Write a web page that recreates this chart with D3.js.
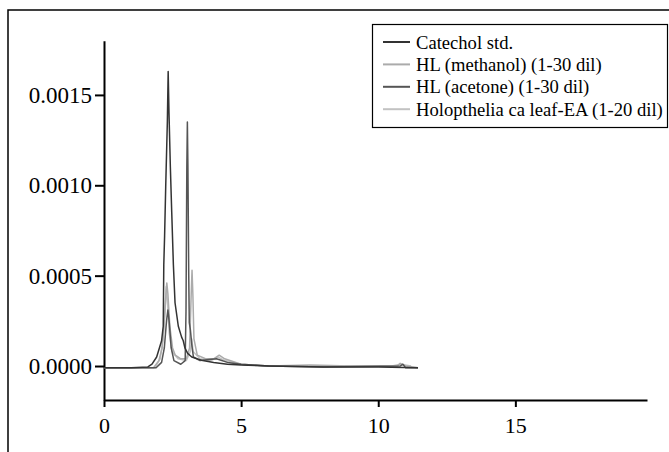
<!DOCTYPE html>
<html><head><meta charset="utf-8">
<script src="https://cdn.jsdelivr.net/npm/d3@7"></script>
<style>body{margin:0;background:#fff}svg{display:block}</style>
</head><body>
<script>
// ---- data ----
const seriesNames = ["Catechol std.", "HL (methanol) (1-30 dil)", "HL (acetone) (1-30 dil)", "Holopthelia ca leaf-EA (1-20 dil)"];
const seriesColors = ["#333333", "#ababab", "#555555", "#c2c2c2"];
const xTicks = [0, 5, 10, 15];
const yTicks = [0, 0.0005, 0.0010, 0.0015];

const catechol = [[0,-0.00001],[1.0,-0.00001],[1.6,-0.000005],[1.75,0.00001],[1.92,0.00005],[2.02,0.0001],[2.1,0.00014],[2.16,0.00022],[2.18,0.00056],[2.21,0.00072],[2.25,0.00099],[2.31,0.00135],[2.34,0.00163],[2.37,0.0014],[2.42,0.0011],[2.47,0.00085],[2.53,0.00056],[2.59,0.00035],[2.71,0.00022],[2.83,0.00016],[2.89,0.00014],[2.95,0.0001],[3.05,0.00007],[3.2,0.00005],[3.6,0.00003],[4.0,0.00002],[4.5,0.00001],[5,0.000005],[6,0],[8,-0.000005],[10,-0.000005],[11.45,-0.00001]];
const methanol = [[0,-0.00001],[1.8,-0.00001],[2.0,0.00003],[2.12,0.0001],[2.2,0.00025],[2.26,0.0004],[2.29,0.00046],[2.33,0.0004],[2.4,0.00022],[2.5,0.0001],[2.6,0.00006],[2.8,0.00004],[3.0,0.00004],[3.12,0.0001],[3.18,0.0004],[3.21,0.00053],[3.24,0.0004],[3.28,0.00015],[3.4,0.00006],[3.7,0.00004],[4.0,0.00004],[4.2,0.00006],[4.4,0.00004],[5,0.00001],[6,0],[7.5,0.000005],[9,0],[10.7,0],[10.8,0.000015],[11,0],[11.45,-0.00001]];
const acetone = [[0,-0.00001],[1.9,-0.00001],[2.1,0.00002],[2.2,0.0001],[2.28,0.00025],[2.33,0.00031],[2.38,0.00024],[2.45,0.0001],[2.55,0.00003],[2.8,0.00001],[2.96,0.00003],[2.99,0.0003],[3.02,0.0011],[3.04,0.00135],[3.06,0.0011],[3.09,0.0005],[3.11,0.00024],[3.15,0.0002],[3.2,0.00012],[3.26,0.00005],[3.5,0.00003],[4.1,0.00004],[4.5,0.00002],[5,0.00001],[6,0],[8,-0.000005],[10.8,0],[10.9,0.00001],[11,-0.00001],[11.45,-0.00001]];
const holopthelia = [[0,-0.00001],[1.85,-0.00001],[2.05,0.00004],[2.15,0.00015],[2.22,0.0003],[2.27,0.00044],[2.31,0.00036],[2.38,0.00018],[2.48,0.00008],[2.7,0.00004],[3.0,0.00003],[3.15,0.00008],[3.2,0.00015],[3.25,0.00008],[3.5,0.00004],[3.9,0.00003],[4.15,0.00005],[4.4,0.00003],[5,0.00001],[6,0],[10.5,0],[10.8,0.00001],[11.2,0]];
const seriesData = [catechol, methanol, acetone, holopthelia];

// ---- drawing ----
const W = 669, H = 452;
const FONT = "Liberation Serif, DejaVu Serif, Times New Roman, Times, serif";
const svg = d3.select("body").append("svg").attr("width", W).attr("height", H);

// outer frame
svg.append("rect").attr("x", 8).attr("y", 10).attr("width", 720).attr("height", 520)
  .attr("fill", "none").attr("stroke", "#000").attr("stroke-width", 1.5);

const x = d3.scaleLinear().domain([0, 19.8]).range([104, 647]);
const y = d3.scaleLinear().domain([-0.000188, 0.0018]).range([400, 40.7]);

// axes
const xAxis = d3.axisBottom(x).tickValues(xTicks).tickSize(7).tickSizeOuter(0).tickFormat(d3.format("d"));
const gx = svg.append("g").attr("transform", `translate(0,${y.range()[0]})`).call(xAxis);
gx.attr("font-family", FONT).attr("font-size", 22);
gx.select(".domain").attr("stroke", "#000").attr("stroke-width", 2);
gx.selectAll(".tick line").attr("stroke", "#000").attr("stroke-width", 2);
gx.selectAll(".tick text").attr("fill", "#000").attr("dy", "1.05em")
  .style("font-family", FONT).style("font-size", "22px");

const yAxis = d3.axisLeft(y).tickValues(yTicks).tickSize(9).tickSizeOuter(0).tickFormat(d3.format(".4f"));
const gy = svg.append("g").attr("transform", `translate(${x.range()[0]},0)`).call(yAxis);
gy.attr("font-family", FONT).attr("font-size", 23);
gy.select(".domain").attr("stroke", "#000").attr("stroke-width", 2);
gy.selectAll(".tick line").attr("stroke", "#000").attr("stroke-width", 2);
gy.selectAll(".tick text").attr("fill", "#000").attr("x", -12)
  .style("font-family", FONT).style("font-size", "23px");

// lines
const line = d3.line().x(d => x(d[0])).y(d => y(d[1]));
const order = [3, 1, 2, 0];
order.forEach(i => {
  svg.append("path").datum(seriesData[i]).attr("d", line)
    .attr("fill", "none").attr("stroke", seriesColors[i]).attr("stroke-width", 1.5)
    .attr("stroke-linejoin", "round");
});

// legend
const lg = svg.append("g");
lg.append("rect").attr("x", 372.5).attr("y", 24.5).attr("width", 295).attr("height", 103)
  .attr("fill", "#fff").attr("stroke", "#000").attr("stroke-width", 1.2);
seriesNames.forEach((n, i) => {
  const yy = 42 + i * 22.4;
  lg.append("line").attr("x1", 383).attr("x2", 410).attr("y1", yy).attr("y2", yy)
    .attr("stroke", seriesColors[i]).attr("stroke-width", 2);
  lg.append("text").attr("x", 416).attr("y", yy).attr("dy", "0.35em")
    .style("font-family", FONT).style("font-size", "18.6px").attr("fill", "#000").text(n);
});
</script>
</body></html>
